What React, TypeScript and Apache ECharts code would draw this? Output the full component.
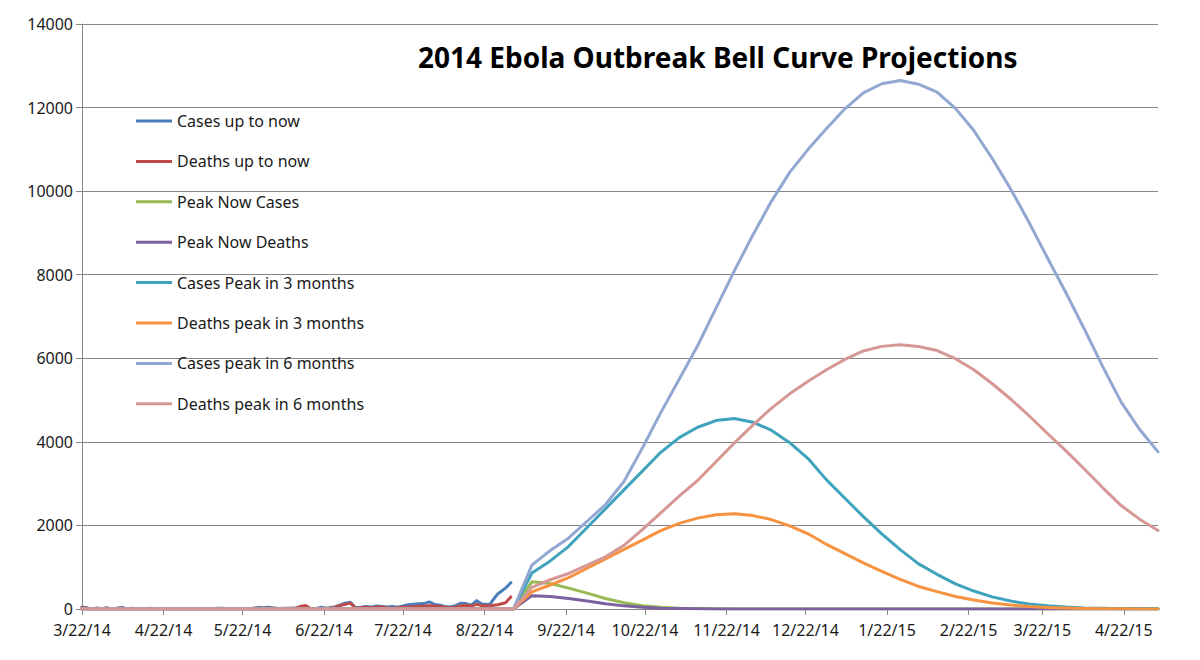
import React, { useEffect, useRef } from "react";
import * as echarts from "echarts";

// ---- axis ----
const axisStart = { y: 2014, m: 3, d: 22 };
const axisDays = 410; // 3/22/14 .. 5/5/15
const tickLabels = [
  "3/22/14", "4/22/14", "5/22/14", "6/22/14", "7/22/14", "8/22/14", "9/22/14",
  "10/22/14", "11/22/14", "12/22/14", "1/22/15", "2/22/15", "3/22/15", "4/22/15",
];
const yTicks = [0, 2000, 4000, 6000, 8000, 10000, 12000, 14000];

// ---- reported data (null = no report) ----
const histDates = [
  "3/22/14", "3/24/14", "3/25/14", "3/27/14", "3/28/14", "3/29/14", "3/31/14", "4/1/14", "4/2/14",
  "4/4/14", "4/6/14", "4/7/14", "4/8/14", "4/10/14", "4/11/14", "4/12/14", "4/17/14", "4/18/14",
  "4/19/14", "4/23/14", "4/24/14", "4/25/14", "5/12/14", "5/14/14", "5/16/14", "5/17/14",
  "5/26/14", "5/28/14", "5/30/14", "6/1/14", "6/3/14", "6/5/14", "6/8/14", "6/11/14", "6/13/14",
  "6/15/14", "6/17/14", "6/19/14", "6/21/14", "6/23/14", "6/26/14", "6/28/14", "6/30/14",
  "7/2/14", "7/4/14", "7/6/14", "7/8/14", "7/10/14", "7/12/14", "7/14/14", "7/16/14", "7/18/14",
  "7/20/14", "7/22/14", "7/24/14", "7/27/14", "7/30/14", "8/1/14", "8/3/14", "8/5/14", "8/7/14",
  "8/9/14", "8/11/14", "8/13/14", "8/15/14", "8/17/14", "8/19/14", "8/21/14", "8/24/14",
  "8/27/14", "8/30/14", "9/1/14",
];
const histCases = [
  45, 30, null, 20, 25, null, 30, 25, null,
  20, 35, 30, null, 20, 15, null, 20, 15,
  null, 12, 8, null, 15, 20, 10, null,
  20, 35, 30, 40, 25, 10, 15, 20, 40,
  60, 5, 10, 40, 20, 50, 90, 140,
  160, 30, 40, 60, 50, 70, 60, 50, 60,
  40, 70, 100, 120, 130, 170, 110, 90, 60,
  50, 80, 140, 130, 90, 200, 120, 110,
  360, 500, 630,
];
const histDeaths = [
  30, 20, null, 10, 15, null, 20, 10, null,
  10, 20, 10, null, 10, 8, null, 10, 5,
  null, 5, 3, null, 10, 10, 5, null,
  10, 15, 10, 20, 10, 5, 10, 15, 60,
  85, 5, 5, 10, 10, 30, 80, 110,
  140, 20, 30, 40, 30, 50, 50, 30, 20,
  30, 40, 50, 60, 70, 80, 70, 60, 40,
  30, 50, 80, 90, 70, 110, 80, 80,
  100, 150, 290,
];

// ---- weekly projections, starting 9/2/14 (zero before that) ----
const projStart = "9/2/14";
const projStepDays = 7;
const peakNowCases = [0, 650, 610, 500, 380, 250, 150, 80, 40, 20, 10, 5, 2, 1, 0, 0, 0, 0, 0, 0, 0, 0, 0, 0, 0, 0, 0, 0, 0, 0, 0, 0, 0, 0, 0, 0];
const peakNowDeaths = [0, 320, 300, 250, 190, 125, 75, 40, 20, 10, 5, 2, 1, 0, 0, 0, 0, 0, 0, 0, 0, 0, 0, 0, 0, 0, 0, 0, 0, 0, 0, 0, 0, 0, 0, 0];
const cases3m = [0, 860, 1150, 1500, 1950, 2400, 2850, 3300, 3750, 4100, 4350, 4510, 4560, 4470, 4280, 3980, 3600, 3090, 2650, 2210, 1800, 1420, 1080, 830, 600, 430, 290, 190, 120, 75, 45, 25, 15, 8, 5, 3];
const deaths3m = [0, 410, 575, 750, 975, 1200, 1425, 1650, 1875, 2050, 2175, 2255, 2280, 2235, 2140, 1990, 1800, 1545, 1325, 1105, 900, 710, 540, 415, 300, 215, 145, 95, 60, 38, 22, 12, 7, 4, 2, 1];
const cases6m = [0, 1050, 1400, 1700, 2100, 2500, 3050, 3850, 4700, 5500, 6300, 7200, 8100, 8950, 9750, 10450, 11000, 11500, 11970, 12350, 12570, 12650, 12560, 12370, 11980, 11450, 10780, 10050, 9250, 8400, 7570, 6700, 5800, 4950, 4300, 3760];
const deaths6m = [0, 520, 700, 850, 1050, 1250, 1525, 1900, 2300, 2700, 3075, 3525, 3975, 4400, 4800, 5150, 5450, 5725, 5975, 6175, 6285, 6325, 6280, 6185, 5990, 5725, 5390, 5025, 4625, 4200, 3785, 3350, 2900, 2475, 2150, 1880];

const seriesNames = [
  "Cases up to now", "Deaths up to now", "Peak Now Cases", "Peak Now Deaths",
  "Cases Peak in 3 months", "Deaths peak in 3 months", "Cases peak in 6 months", "Deaths peak in 6 months",
];
const seriesColors = ["#4A7EBB", "#BE4B48", "#98B954", "#7D60A0", "#3FA3BD", "#F69240", "#92A8D2", "#D69896"];

const FONT = "'Noto Sans', sans-serif";

function fmt(dt: Date) {
  return `${dt.getUTCMonth() + 1}/${dt.getUTCDate()}/${String(dt.getUTCFullYear()).slice(2)}`;
}

export default function App() {
  const ref = useRef<HTMLDivElement>(null);
  useEffect(() => {
    if (!ref.current) return;
    const chart = echarts.init(ref.current, undefined, { renderer: "svg" });

    const categories: string[] = [];
    for (let i = 0; i <= axisDays - 1; i++) {
      categories.push(fmt(new Date(Date.UTC(axisStart.y, axisStart.m - 1, axisStart.d + i))));
    }
    const startIdx = categories.indexOf(projStart);
    const projData = (vals: number[]) => [
      [categories[0], 0],
      ...vals.map((v, k) => [categories[startIdx + k * projStepDays], v]),
    ];
    const histData = (vals: (number | null)[]) =>
      histDates.map((d, i) => [d, vals[i] === null ? "-" : vals[i]]);

    const allData = [
      histData(histCases), histData(histDeaths),
      projData(peakNowCases), projData(peakNowDeaths),
      projData(cases3m), projData(deaths3m),
      projData(cases6m), projData(deaths6m),
    ];

    const isTick = (_i: number, v: string) => tickLabels.includes(v);

    chart.setOption({
      animation: false,
      backgroundColor: "#ffffff",
      title: {
        text: "2014 Ebola Outbreak Bell Curve Projections",
        left: 418,
        top: 43,
        padding: 0,
        textStyle: { fontFamily: FONT, fontSize: 28, fontWeight: "bold", color: "#000" },
      },
      legend: {
        orient: "vertical",
        left: 136,
        top: 111,
        padding: 0,
        itemGap: 20.4,
        itemWidth: 36,
        itemHeight: 3,
        icon: "rect",
        data: seriesNames,
        textStyle: { fontFamily: FONT, fontSize: 16, color: "#1a1a1a", lineHeight: 20 },
      },
      grid: { left: 82, right: 42, top: 24, bottom: 51, containLabel: false },
      xAxis: {
        type: "category",
        boundaryGap: false,
        data: categories,
        axisLine: { lineStyle: { color: "#868686", width: 1 } },
        axisTick: { show: true, interval: isTick, length: 6, lineStyle: { color: "#868686" } },
        axisLabel: {
          interval: isTick,
          margin: 13,
          fontFamily: FONT,
          fontSize: 16,
          color: "#1a1a1a",
          hideOverlap: false,
        },
        splitLine: { show: false },
      },
      yAxis: {
        type: "value",
        min: yTicks[0],
        max: yTicks[yTicks.length - 1],
        interval: yTicks[1] - yTicks[0],
        axisLine: { show: true, lineStyle: { color: "#868686", width: 1 } },
        axisTick: { show: true, length: 6, lineStyle: { color: "#868686" } },
        axisLabel: {
          margin: 9,
          fontFamily: FONT,
          fontSize: 16,
          color: "#1a1a1a",
          formatter: (v: number) => String(v),
        },
        splitLine: { show: true, lineStyle: { color: "#868686", width: 1 } },
      },
      series: seriesNames.map((name, i) => ({
        name,
        type: "line",
        data: allData[i],
        showSymbol: false,
        symbol: "none",
        connectNulls: false,
        color: seriesColors[i],
        lineStyle: { width: 3, color: seriesColors[i], cap: "round", join: "round" },
      })),
    });
    return () => chart.dispose();
  }, []);
  return (
    <div
      ref={ref}
      style={{ position: "fixed", left: 0, top: 0, width: 1200, height: 660, background: "#fff" }}
    />
  );
}
